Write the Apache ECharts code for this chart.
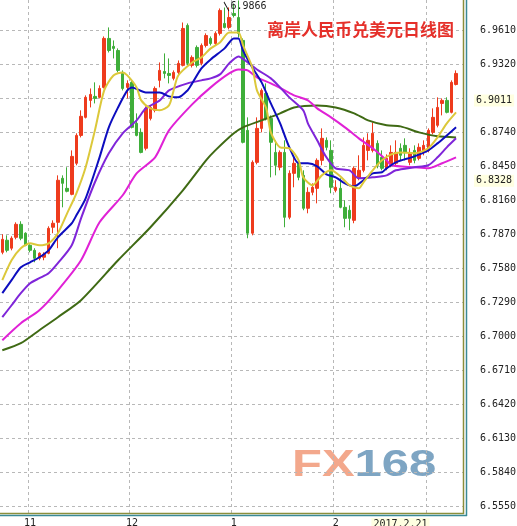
<!DOCTYPE html>
<html><head><meta charset="utf-8">
<script src="https://cdn.jsdelivr.net/npm/echarts@6/dist/echarts.min.js"></script>
<style>html,body{margin:0;padding:0;background:#fff}#c{width:517px;height:526px}</style>
</head><body><div id="c"></div>
<script>
// ---- data ----
const startDate = '2016-10-24';
const categoryCount = 100;
const markedDate = '2017-2-21';
const markedDateLabel = '2017.2.21';
const hiddenMonth = 3;
const yTicks = [6.5550, 6.5840, 6.6130, 6.6420, 6.6710, 6.7000, 6.7290, 6.7580, 6.7870, 6.8160, 6.8450, 6.8740, 6.9030, 6.9320, 6.9610];
const yHiddenTickLabels = [6.9030];
const yHighlightLabels = [6.9011, 6.8328];
const highValue = 6.9866;
const highIndex = 51;
const titleText = '离岸人民币兑美元日线图';
// [open, close, low, high]
const candles = [
[6.7716,6.7827,6.7699,6.7870],[6.7819,6.7733,6.7716,6.7861],[6.7751,6.7836,6.7733,6.7853],[6.7844,6.7955,6.7827,6.7972],
[6.7955,6.7836,6.7819,6.7981],[6.7879,6.7776,6.7768,6.7887],[6.7776,6.7733,6.7716,6.7785],[6.7733,6.7665,6.7631,6.7751],
[6.7665,6.7708,6.7648,6.7716],[6.7674,6.7699,6.7648,6.7716],[6.7708,6.7921,6.7699,6.7938],[6.7930,6.7964,6.7879,6.7989],
[6.7972,6.8331,6.7751,6.8373],[6.8348,6.8305,6.8100,6.8373],[6.8262,6.8237,6.8228,6.8442],[6.8211,6.8535,6.8203,6.8586],
[6.8476,6.8714,6.8459,6.8732],[6.8714,6.8877,6.8697,6.8928],[6.8868,6.9039,6.8859,6.9056],[6.9013,6.9064,6.8953,6.9115],
[6.9047,6.9030,6.8987,6.9167],[6.9039,6.9115,6.9030,6.9141],[6.9124,6.9542,6.9115,6.9559],[6.9542,6.9439,6.9422,6.9636],
[6.9474,6.9457,6.9371,6.9525],[6.9439,6.9269,6.9252,6.9457],[6.9252,6.9115,6.9098,6.9269],[6.9124,6.9158,6.9030,6.9184],
[6.9167,6.8783,6.8774,6.9184],[6.8817,6.8714,6.8706,6.8902],[6.8740,6.8569,6.8561,6.8774],[6.8604,6.8945,6.8586,6.8962],
[6.8859,6.8953,6.8842,6.8970],[6.8928,6.9115,6.8911,6.9132],[6.9184,6.9269,6.9124,6.9337],[6.9260,6.9243,6.9201,6.9414],
[6.9243,6.9226,6.9158,6.9371],[6.9201,6.9252,6.9184,6.9269],[6.9252,6.9329,6.9235,6.9354],[6.9312,6.9627,6.9303,6.9678],
[6.9653,6.9329,6.9312,6.9670],[6.9312,6.9380,6.9294,6.9397],[6.9465,6.9312,6.9294,6.9482],[6.9329,6.9482,6.9312,6.9499],
[6.9482,6.9567,6.9465,6.9585],[6.9542,6.9499,6.9482,6.9559],[6.9499,6.9585,6.9482,6.9602],[6.9585,6.9781,6.9567,6.9798],
[6.9670,6.9636,6.9627,6.9806],[6.9636,6.9721,6.9619,6.9806],[6.9755,6.9738,6.9721,6.9840],[6.9721,6.9585,6.9550,6.9866],
[6.9525,6.8655,6.8646,6.9542],[6.8757,6.7879,6.7836,6.8868],[6.7879,6.8484,6.7861,6.8501],[6.8484,6.8774,6.8467,6.8868],
[6.8774,6.9098,6.8740,6.9115],[6.9073,6.8859,6.8842,6.9158],[6.8859,6.8655,6.8356,6.8885],[6.8569,6.8459,6.8373,6.8672],
[6.8442,6.8569,6.8416,6.8586],[6.8569,6.8015,6.7930,6.8672],[6.8015,6.8390,6.7998,6.8416],[6.8390,6.8476,6.8271,6.8527],
[6.8476,6.8356,6.8331,6.8501],[6.8373,6.8092,6.8075,6.8416],[6.8092,6.8228,6.8049,6.8271],[6.8228,6.8271,6.8203,6.8305],
[6.8262,6.8501,6.8134,6.8518],[6.8501,6.8689,6.8459,6.8774],[6.8672,6.8612,6.8586,6.8697],[6.8586,6.8271,6.8220,6.8672],
[6.8245,6.8271,6.8228,6.8331],[6.8262,6.8100,6.8092,6.8348],[6.8100,6.8006,6.7930,6.8160],[6.8075,6.8006,6.7904,6.8117],
[6.7989,6.8433,6.7964,6.8450],[6.8348,6.8416,6.8331,6.8544],[6.8416,6.8629,6.8399,6.8697],[6.8586,6.8672,6.8501,6.8732],
[6.8586,6.8732,6.8569,6.8825],[6.8646,6.8459,6.8433,6.8672],[6.8527,6.8433,6.8416,6.8586],[6.8433,6.8518,6.8416,6.8552],
[6.8459,6.8569,6.8442,6.8629],[6.8476,6.8569,6.8459,6.8672],[6.8604,6.8544,6.8501,6.8646],[6.8629,6.8569,6.8501,6.8689],
[6.8484,6.8561,6.8459,6.8604],[6.8586,6.8501,6.8476,6.8629],[6.8518,6.8612,6.8501,6.8646],[6.8569,6.8629,6.8544,6.8672],
[6.8586,6.8757,6.8569,6.8774],[6.8740,6.8868,6.8723,6.8945],[6.8800,6.8953,6.8783,6.9039],[6.8987,6.9013,6.8885,6.9030],
[6.9013,6.8911,6.8902,6.9039],[6.8911,6.9167,6.8902,6.9184],[6.9149,6.9243,6.9141,6.9269]
];
// moving averages: [category index, value]
const ma5 = [[0,6.7478],[2,6.7648],[4,6.7751],[6,6.7793],[8,6.7776],[10,6.7793],[12,6.7879],[14,6.8049],[16,6.8220],[18,6.8442],[20,6.8757],[22,6.9098],[24,6.9226],[26,6.9252],[27,6.9226],[29,6.9124],[30,6.9013],[32,6.8945],[34,6.8928],[36,6.8970],[37,6.9098],[38,6.9226],[41,6.9337],[43,6.9380],[45,6.9457],[47,6.9508],[49,6.9593],[51,6.9593],[52,6.9482],[54,6.9294],[55,6.9098],[57,6.8945],[58,6.8740],[60,6.8612],[62,6.8604],[64,6.8501],[65,6.8356],[67,6.8288],[69,6.8373],[71,6.8416],[73,6.8365],[75,6.8288],[77,6.8262],[78,6.8314],[80,6.8416],[82,6.8501],[84,6.8552],[86,6.8569],[89,6.8561],[92,6.8604],[94,6.8697],[96,6.8817],[98,6.8911]];
const ma10 = [[0,6.7367],[2,6.7478],[4,6.7588],[6,6.7631],[8,6.7674],[10,6.7733],[12,6.7844],[15,6.7964],[16,6.8032],[18,6.8177],[21,6.8527],[23,6.8783],[25,6.8953],[27,6.9098],[28,6.9124],[31,6.9081],[34,6.9081],[36,6.9047],[38,6.9039],[40,6.9098],[41,6.9158],[43,6.9286],[45,6.9363],[48,6.9457],[50,6.9542],[51,6.9542],[52,6.9439],[54,6.9294],[56,6.9167],[58,6.8987],[60,6.8817],[62,6.8612],[64,6.8476],[66,6.8476],[68,6.8450],[70,6.8382],[72,6.8356],[74,6.8305],[76,6.8279],[78,6.8331],[80,6.8390],[82,6.8399],[83,6.8433],[85,6.8484],[89,6.8535],[92,6.8586],[94,6.8646],[96,6.8714],[98,6.8783]];
const ma20 = [[0,6.7162],[2,6.7264],[4,6.7367],[6,6.7452],[8,6.7495],[10,6.7537],[12,6.7623],[15,6.7776],[17,6.8006],[20,6.8314],[23,6.8561],[26,6.8732],[29,6.8842],[31,6.8945],[34,6.9013],[36,6.9098],[40,6.9158],[43,6.9184],[45,6.9201],[47,6.9235],[49,6.9329],[51,6.9388],[53,6.9337],[55,6.9277],[58,6.9201],[60,6.9124],[62,6.9039],[65,6.8928],[66,6.8817],[68,6.8672],[70,6.8527],[72,6.8433],[75,6.8416],[77,6.8348],[80,6.8356],[83,6.8373],[85,6.8416],[89,6.8442],[92,6.8459],[94,6.8527],[96,6.8612],[98,6.8689]];
const ma30 = [[0,6.6966],[4,6.7111],[8,6.7222],[12,6.7392],[17,6.7648],[21,6.7972],[26,6.8203],[29,6.8390],[33,6.8527],[36,6.8757],[41,6.8979],[45,6.9124],[49,6.9243],[51,6.9277],[53,6.9269],[55,6.9209],[58,6.9158],[61,6.9098],[63,6.9056],[66,6.9013],[68,6.8945],[71,6.8868],[74,6.8783],[77,6.8689],[80,6.8604],[83,6.8501],[84,6.8459],[89,6.8442],[92,6.8433],[95,6.8476],[98,6.8527]];
const ma60 = [[0,6.6880],[4,6.6940],[8,6.7051],[12,6.7162],[17,6.7307],[25,6.7648],[32,6.7930],[39,6.8245],[44,6.8501],[46,6.8586],[50,6.8732],[52,6.8783],[56,6.8842],[60,6.8902],[63,6.8953],[68,6.8970],[72,6.8953],[76,6.8902],[79,6.8842],[83,6.8800],[86,6.8791],[90,6.8740],[94,6.8706],[98,6.8697]];

// ---- build ----
function buildCategories(start, count) {
  const out = [];
  const d = new Date(start + 'T00:00:00Z');
  while (out.length < count) {
    const wd = d.getUTCDay();
    if (wd !== 0 && wd !== 6) out.push(d.getUTCFullYear() + '-' + (d.getUTCMonth() + 1) + '-' + d.getUTCDate());
    d.setUTCDate(d.getUTCDate() + 1);
  }
  return out;
}
const categories = buildCategories(startDate, categoryCount);
const monthOf = s => +s.split('-')[1];
const isMonthStart = i => i > 0 && monthOf(categories[i]) !== monthOf(categories[i - 1]);
const near = (a, b) => Math.abs(a - b) < 1e-6;
const yLabelValues = yTicks.filter(v => !yHiddenTickLabels.some(h => near(h, v))).concat(yHighlightLabels);

const mono = 'DejaVu Sans Mono';
const chart = echarts.init(document.getElementById('c'), null, {renderer: 'canvas'});
function maSeries(name, data, color) {
  return {name, type: 'line', data, symbol: 'none', smooth: 0.25, z: 3,
    lineStyle: {color, width: 2}, itemStyle: {color}, silent: true};
}
chart.setOption({
  animation: false,
  backgroundColor: '#ffffff',
  title: {text: titleText, left: 262, top: 16,
    textStyle: {color: '#e5302a', fontSize: 17, fontWeight: 'bold', fontFamily: 'Noto Sans CJK SC'}},
  grid: {left: 0, right: 54, top: 0, bottom: 12, containLabel: false, outerBoundsMode: 'none'},
  xAxis: {
    type: 'category', data: categories, boundaryGap: true,
    axisLine: {show: false}, axisTick: {show: false},
    axisLabel: {
      interval: (i, v) => (isMonthStart(i) && monthOf(v) !== hiddenMonth) || v === markedDate,
      margin: 4, fontFamily: mono, fontSize: 10, color: '#222',
      formatter: (v) => v === markedDate ? '{hl|' + markedDateLabel + '}' : String(monthOf(v)),
      rich: {hl: {backgroundColor: '#ffffe1', padding: [1, 2, 1, 2], fontFamily: mono, fontSize: 10, color: '#222'}}
    },
    splitLine: {show: true, interval: (i) => isMonthStart(i), lineStyle: {color: '#b8b8b8', type: [3, 3], width: 1}}
  },
  yAxis: {
    type: 'value', position: 'right', min: 6.5482, max: 6.9870,
    axisLine: {show: false},
    axisTick: {show: false, customValues: yTicks},
    axisLabel: {
      customValues: yLabelValues, margin: 11, fontFamily: mono, fontSize: 10, color: '#222',
      formatter: (v) => yHighlightLabels.some(h => near(h, v)) ? '{hl|' + v.toFixed(4) + '}' : '{n|' + v.toFixed(4) + '}',
      rich: {
        n: {padding: [0, 0, 0, 6], fontFamily: mono, fontSize: 10, color: '#222'},
        hl: {backgroundColor: '#ffffe1', padding: [1, 2, 1, 2], fontFamily: mono, fontSize: 10, color: '#222'}
      }
    },
    splitLine: {show: true, lineStyle: {color: '#b8b8b8', type: [3, 3], width: 1}}
  },
  series: [
    {type: 'candlestick', data: candles, barWidth: 3, z: 2,
      itemStyle: {color: '#ee3b1d', color0: '#3fae3a', borderColor: '#ee3b1d', borderColor0: '#3fae3a', borderWidth: 1},
      markPoint: {silent: true,
        data: [
          {coord: [highIndex, highValue], value: highValue, symbol: 'circle', symbolSize: 0,
            label: {show: true, position: 'inside', align: 'left', offset: [-8, 6], fontFamily: mono, fontSize: 10, color: '#222',
              formatter: p => p.value.toFixed(4)}},
          {coord: [highIndex, highValue], symbol: 'path://M0 0 L6 11', symbolSize: [5, 9], symbolOffset: [-12, 6],
            itemStyle: {color: 'none', borderColor: '#111', borderWidth: 1}, label: {show: false}}
        ]}
    },
    maSeries('MA60', ma60, '#3f6a14'),
    maSeries('MA30', ma30, '#e021d6'),
    maSeries('MA20', ma20, '#7f25d9'),
    maSeries('MA10', ma10, '#0d0dbf'),
    maSeries('MA5', ma5, '#dcc83a')
  ],
  graphic: [
    {type: 'line', shape: {x1: 463.5, y1: 0, x2: 463.5, y2: 514}, style: {stroke: '#8c8f3c', lineWidth: 1.5}, z: 10},
    {type: 'line', shape: {x1: 0, y1: 513.5, x2: 464, y2: 513.5}, style: {stroke: '#8c8f3c', lineWidth: 1.5}, z: 10},
    {type: 'line', shape: {x1: 466.5, y1: 0, x2: 466.5, y2: 516}, style: {stroke: '#3a8a96', lineWidth: 1.5}, z: 10},
    {type: 'line', shape: {x1: 0, y1: 515.5, x2: 467, y2: 515.5}, style: {stroke: '#3a8a96', lineWidth: 1.5}, z: 10},
    {type: 'group', x: 292, y: 448, scaleX: 1.36, scaleY: 1, z: 1, children: [
      {type: 'text', x: 0, y: 0, style: {text: 'FX', fill: '#f3a88c', font: 'bold 36px "Liberation Sans"', textVerticalAlign: 'top'}},
      {type: 'text', x: 46, y: 0, style: {text: '168', fill: '#7ea5c3', font: 'bold 36px "Liberation Sans"', textVerticalAlign: 'top'}}
    ]}
  ]
});
</script></body></html>
